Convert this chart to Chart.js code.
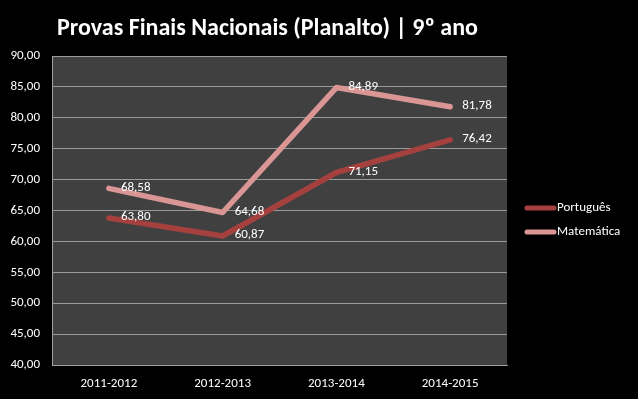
<!DOCTYPE html>
<html><head><meta charset="utf-8">
<script src="https://cdn.jsdelivr.net/npm/chart.js@4/dist/chart.umd.min.js"></script>
<style>html,body{margin:0;padding:0;background:#000;}#wrap{width:638px;height:399px;position:relative;}</style>
</head><body><div id="wrap"><canvas id="c" width="638" height="399"></canvas></div>
<script>
const categories = ["2011-2012", "2012-2013", "2013-2014", "2014-2015"];
const portugues = [63.80, 60.87, 71.15, 76.42];
const matematica = [68.58, 64.68, 84.89, 81.78];
const seriesNames = ["Português", "Matemática"];
const titleText = "Provas Finais Nacionais (Planalto) | 9º ano";
const FONT = "Carlito, 'Liberation Sans Narrow', 'DejaVu Sans Condensed', sans-serif";

const fmt = v => v.toFixed(2).replace('.', ',');

const bgPlugin = {
  id: 'bg',
  beforeDraw(chart) {
    const ctx = chart.ctx, a = chart.chartArea;
    ctx.save();
    ctx.fillStyle = '#000';
    ctx.fillRect(0, 0, chart.width, chart.height);
    ctx.fillStyle = '#404040';
    ctx.fillRect(a.left, a.top, a.right - a.left, a.bottom - a.top);
    ctx.restore();
  },
  afterDraw(chart) {
    const ctx = chart.ctx;
    ctx.save();
    // title
    ctx.fillStyle = '#fff';
    ctx.font = "bold 24px " + FONT;
    ctx.textAlign = 'left';
    ctx.textBaseline = 'middle';
    ctx.fillText(titleText, 57, 29);
    // data labels
    ctx.font = "13px " + FONT;
    ctx.fillStyle = '#fff';
    chart.data.datasets.forEach((ds, di) => {
      const meta = chart.getDatasetMeta(di);
      meta.data.forEach((pt, i) => {
        ctx.fillText(fmt(ds.data[i]), pt.x + 12, pt.y - 1);
      });
    });
    // legend
    ctx.font = "13px " + FONT;
    chart.data.datasets.forEach((ds, di) => {
      const y = 208 + di * 24;
      ctx.strokeStyle = ds.borderColor;
      ctx.lineWidth = 5;
      ctx.lineCap = 'round';
      ctx.beginPath();
      ctx.moveTo(527, y);
      ctx.lineTo(554, y);
      ctx.stroke();
      ctx.fillStyle = '#fff';
      ctx.fillText(ds.label, 557, y);
    });
    ctx.restore();
  }
};

new Chart(document.getElementById('c'), {
  type: 'line',
  data: {
    labels: categories,
    datasets: [
      { label: seriesNames[0], data: portugues, borderColor: '#A4413F', borderWidth: 5.5, pointRadius: 0, tension: 0, borderCapStyle: 'round', borderJoinStyle: 'round' },
      { label: seriesNames[1], data: matematica, borderColor: '#D99694', borderWidth: 5.5, pointRadius: 0, tension: 0, borderCapStyle: 'round', borderJoinStyle: 'round' }
    ]
  },
  options: {
    responsive: false,
    animation: false,
    devicePixelRatio: 1,
    layout: { padding: { top: 56, right: 131, left: 0, bottom: 0 } },
    plugins: { legend: { display: false }, title: { display: false }, tooltip: { enabled: false } },
    scales: {
      x: {
        offset: true,
        grid: { display: false, drawTicks: false },
        border: { display: true, color: '#A0A0A0', width: 1 },
        ticks: { color: '#fff', font: { family: FONT, size: 13 }, padding: 11, maxRotation: 0 },
        afterFit(s) { s.height = 34; }
      },
      y: {
        min: 40, max: 90,
        grid: { color: '#9A9A9A', lineWidth: 1, drawTicks: false },
        border: { display: true, color: '#A0A0A0', width: 1 },
        ticks: { stepSize: 5, color: '#fff', font: { family: FONT, size: 13 }, padding: 12, callback: v => fmt(v) },
        afterFit(s) { s.width = 52; }
      }
    }
  },
  plugins: [bgPlugin]
});
</script></body></html>
